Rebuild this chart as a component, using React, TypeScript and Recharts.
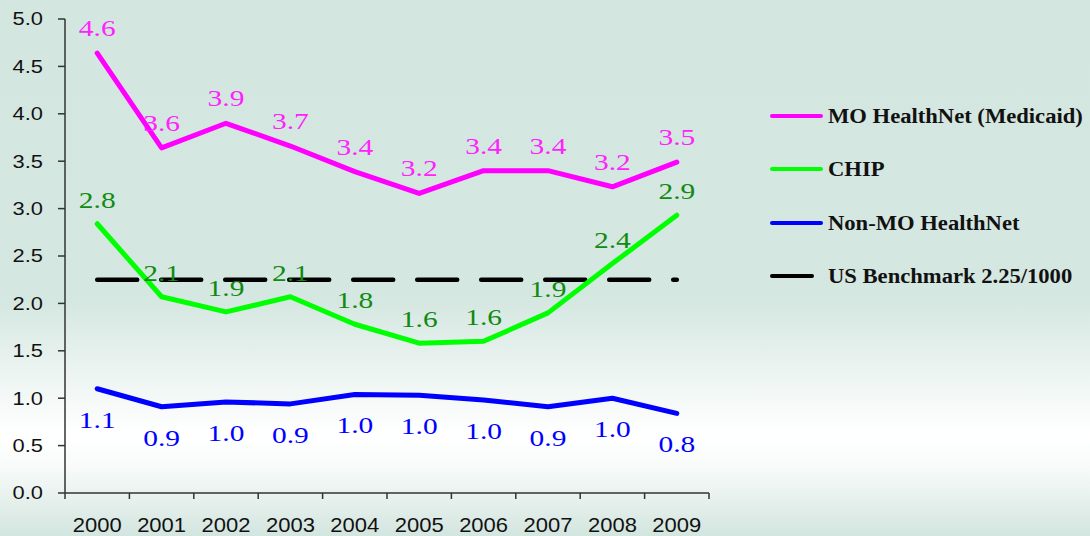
import React from 'react';
import { LineChart, Line, XAxis, YAxis, LabelList } from 'recharts';

const years = ['2000', '2001', '2002', '2003', '2004', '2005', '2006', '2007', '2008', '2009'];
const medicaid = [4.64, 3.64, 3.9, 3.66, 3.39, 3.16, 3.4, 3.4, 3.23, 3.49];
const chip = [2.84, 2.07, 1.91, 2.07, 1.78, 1.58, 1.6, 1.9, 2.42, 2.93];
const nonMo = [1.1, 0.91, 0.96, 0.94, 1.04, 1.03, 0.98, 0.91, 1.0, 0.84];
const benchmark = [2.25, 2.25, 2.25, 2.25, 2.25, 2.25, 2.25, 2.25, 2.25, 2.25];
const yTicks = [0, 0.5, 1, 1.5, 2, 2.5, 3, 3.5, 4, 4.5, 5];

const W = 1090;
const H = 536;
const PLOT_LEFT = 65;
const PLOT_RIGHT = 709;
const BAND = (PLOT_RIGHT - PLOT_LEFT) / years.length;

const data = years.map((year, i) => ({
  x: i + 0.5,
  year,
  medicaid: medicaid[i],
  chip: chip[i],
  nonMo: nonMo[i],
  benchmark: benchmark[i],
}));

const legendItems = [
  { name: 'MO HealthNet (Medicaid)', color: '#ff00ff', len: 53 },
  { name: 'CHIP', color: '#00ff00', len: 53 },
  { name: 'Non-MO HealthNet', color: '#0000ff', len: 53 },
  { name: 'US Benchmark 2.25/1000', color: '#000000', len: 44 },
];

const XTick = ({ x, y, payload }: any) => {
  const label = years[payload.value];
  if (!label) return null;
  return (
    <text
      transform={`translate(${x + BAND / 2} ${y}) scale(1.1 1)`}
      x={0}
      y={0}
      dy={31}
      textAnchor="middle"
      fontFamily="'Liberation Sans', Arial, sans-serif"
      fontSize={20}
      fill="#111"
    >
      {label}
    </text>
  );
};

const YTick = ({ x, y, payload }: any) => (
  <text
    transform={`translate(${x} ${y}) scale(1.25 1)`}
    x={0}
    y={0}
    dy="0.36em"
    textAnchor="end"
    fontFamily="'Liberation Sans', Arial, sans-serif"
    fontSize={17.5}
    fill="#111"
  >
    {Number(payload.value).toFixed(1)}
  </text>
);

// value labels, above or below the point
const makeLabel = (color: string, offset: number) => (props: any) => {
  const { x, y, value } = props;
  if (value == null) return null;
  return (
    <text
      transform={`translate(${x} ${y + offset}) scale(1.28 1)`}
      x={0}
      y={0}
      textAnchor="middle"
      fontFamily="'Liberation Serif', 'Times New Roman', serif"
      fontSize={23}
      fill={color}
    >
      {Number(value).toFixed(1)}
    </text>
  );
};

export default function App() {
  return (
    <div
      style={{
        position: 'absolute',
        left: 0,
        top: 0,
        width: W,
        height: H,
        background:
          'linear-gradient(to bottom, #d4e6e0 0%, #d5e7e1 56%, #ffffff 81%, #f8fbfa 87%, #d3e5df 100%)',
      }}
    >
      <LineChart width={W} height={H} data={data} margin={{ top: 19, right: W - PLOT_RIGHT, bottom: 0, left: 0 }}>
        <XAxis
          dataKey="x"
          type="number"
          domain={[0, 10]}
          ticks={[0, 1, 2, 3, 4, 5, 6, 7, 8, 9, 10]}
          interval={0}
          height={43}
          tickSize={6}
          tickMargin={2}
          stroke="#333"
          strokeWidth={1.5}
          tick={<XTick />}
        />
        <YAxis
          type="number"
          domain={[0, 5]}
          ticks={yTicks}
          interval={0}
          width={PLOT_LEFT}
          tickSize={7}
          tickMargin={15}
          stroke="#333"
          strokeWidth={1.5}
          tick={<YTick />}
        />
        <Line
          type="linear"
          dataKey="benchmark"
          stroke="#000"
          strokeWidth={4.5}
          strokeDasharray="40 24"
          strokeLinecap="round"
          dot={false}
          activeDot={false}
          isAnimationActive={false}
        />
        <Line
          type="linear"
          dataKey="medicaid"
          stroke="#ff00ff"
          strokeWidth={5}
          strokeLinecap="round"
          strokeLinejoin="round"
          dot={false}
          activeDot={false}
          isAnimationActive={false}
        >
          <LabelList dataKey="medicaid" content={makeLabel('#ff22ff', -17)} />
        </Line>
        <Line
          type="linear"
          dataKey="chip"
          stroke="#00ff00"
          strokeWidth={5}
          strokeLinecap="round"
          strokeLinejoin="round"
          dot={false}
          activeDot={false}
          isAnimationActive={false}
        >
          <LabelList dataKey="chip" content={makeLabel('#108a10', -16)} />
        </Line>
        <Line
          type="linear"
          dataKey="nonMo"
          stroke="#0000ff"
          strokeWidth={5}
          strokeLinecap="round"
          strokeLinejoin="round"
          dot={false}
          activeDot={false}
          isAnimationActive={false}
        >
          <LabelList dataKey="nonMo" content={makeLabel('#0000ff', 39)} />
        </Line>
      </LineChart>

      {legendItems.map((item, i) => (
        <div
          key={item.name}
          style={{ position: 'absolute', left: 770, top: 104 + i * 53.3, height: 24, display: 'flex', alignItems: 'center' }}
        >
          <span
            style={{ display: 'inline-block', width: item.len, height: 4, borderRadius: 2, background: item.color }}
          />
          <span
            style={{
              position: 'absolute',
              left: 58,
              top: 0,
              whiteSpace: 'nowrap',
              fontFamily: "'Liberation Serif', 'Times New Roman', serif",
              fontWeight: 'bold',
              fontSize: 20,
              lineHeight: '24px',
              color: '#111',
              transform: 'scaleX(1.13)',
              transformOrigin: 'left center',
            }}
          >
            {item.name}
          </span>
        </div>
      ))}
    </div>
  );
}
